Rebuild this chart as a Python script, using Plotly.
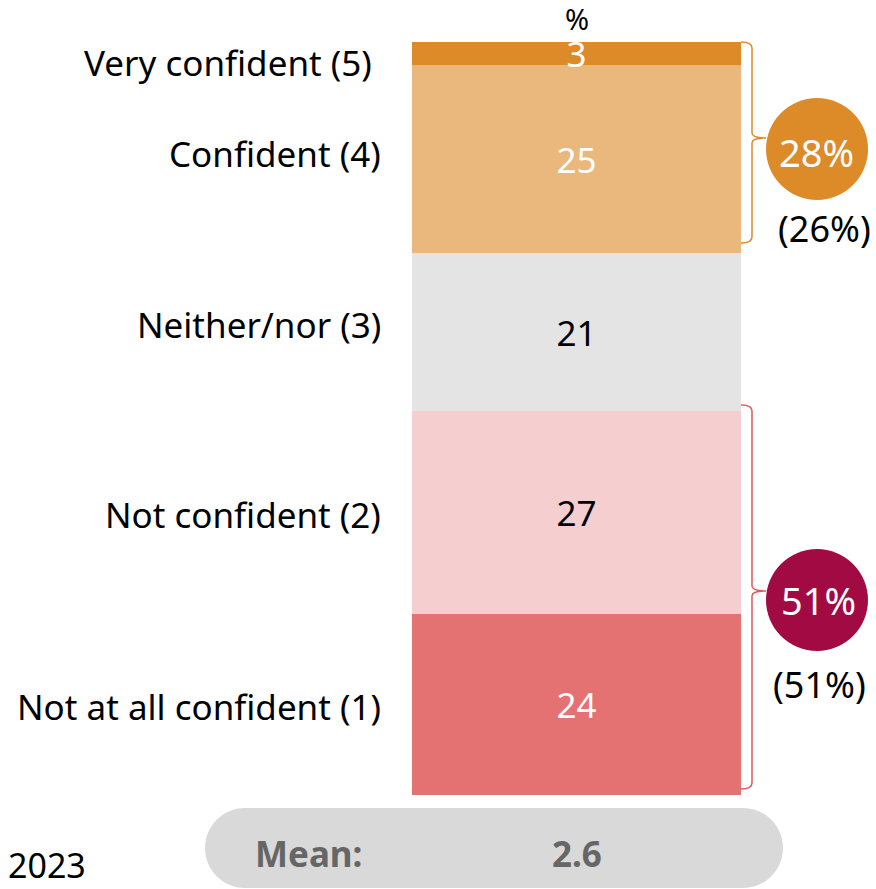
import plotly.graph_objects as go

# Survey responses, stacked bottom to top
categories = ["Not at all confident (1)", "Not confident (2)", "Neither/nor (3)",
              "Confident (4)", "Very confident (5)"]
values = [24, 27, 21, 25, 3]
colors = ["#E47272", "#F5CECF", "#E4E4E4", "#EAB77C", "#DD8A29"]
text_colors = ["white", "black", "black", "white", "white"]

net_confident = "28%"
net_confident_prev = "(26%)"
net_not_confident = "51%"
net_not_confident_prev = "(51%)"
mean_value = "2.6"
year_label = "2023"

W, H = 876, 889
BAR_TOP_PX, BAR_BOT_PX = 42, 795
px_per_unit = (BAR_BOT_PX - BAR_TOP_PX) / 100.0
y_lo = -(H - BAR_BOT_PX) / px_per_unit
y_hi = 100 + BAR_TOP_PX / px_per_unit

FONT = "Noto Sans, Open Sans, sans-serif"
BAR_X = 576.5
BAR_W = 329

fig = go.Figure()

for cat, v, c, tc in zip(categories, values, colors, text_colors):
    fig.add_trace(go.Bar(
        x=[BAR_X], y=[v], width=[BAR_W], name=cat,
        marker=dict(color=c, line=dict(width=0)),
        text=[str(v)], textposition="inside", insidetextanchor="middle",
        textangle=0, textfont=dict(family=FONT, size=35, color=tc),
        cliponaxis=False, constraintext="none", hoverinfo="skip",
    ))

# Category labels on the left, beside each segment
label_yshift = [-2, -2, 7, 5, -9]
label_xshift = [0, 0, 0, 0, -9]
annotations = []
cum = 0
for i, (cat, v) in enumerate(zip(categories, values)):
    mid = cum + v / 2
    cum += v
    annotations.append(dict(
        x=383, y=mid, xref="x", yref="y", text=cat, showarrow=False,
        xanchor="right", yanchor="middle",
        yshift=label_yshift[i], xshift=label_xshift[i],
        font=dict(family=FONT, size=35, color="black"),
    ))

# Pixel-space overlay for decorations
def px(text, x, y, size, color="black", bold=False, xanchor="center"):
    return dict(x=x, y=y, xref="x", yref="y2", text=f"<b>{text}</b>" if bold else text,
                showarrow=False, xanchor=xanchor, yanchor="middle",
                font=dict(family=FONT, size=size, color=color))

annotations += [
    px("%", BAR_X, 18, 29),
    px(net_confident, 816, 152, 38, "white"),
    px(net_confident_prev, 824, 228, 36),
    px(net_not_confident, 818, 600, 38, "white"),
    px(net_not_confident_prev, 819, 684, 36),
    px("Mean:", 308, 853, 35, "#666666", bold=True),
    px(mean_value, 577, 853, 35, "#666666", bold=True),
    px(year_label, 6, 865, 34, xanchor="left"),
]

# Circles for net scores
fig.add_trace(go.Scatter(
    x=[817, 817], y=[149, 600], yaxis="y2", mode="markers",
    marker=dict(size=102, color=["#DD8A29", "#A10A43"], line=dict(width=0)),
    hoverinfo="skip", showlegend=False,
))

def bracket(top, bot, tip, color):
    return dict(
        type="path", xref="x", yref="y2",
        path=(f"M 741 {top} Q 752 {top} 752 {top + 6} "
              f"L 752 {tip - 5} Q 752 {tip} 766 {tip} Q 752 {tip} 752 {tip + 5} "
              f"L 752 {bot - 6} Q 752 {bot} 741 {bot}"),
        line=dict(color=color, width=1.5), fillcolor="rgba(0,0,0,0)",
    )

r = 40
x0, x1, y0, y1 = 205, 783, 808, 888
k = 0.5523 * r
pill = (f"M {x0 + r} {y0} L {x1 - r} {y0} "
        f"C {x1 - r + k} {y0} {x1} {y0 + r - k} {x1} {y0 + r} "
        f"C {x1} {y0 + r + k} {x1 - r + k} {y1} {x1 - r} {y1} "
        f"L {x0 + r} {y1} "
        f"C {x0 + r - k} {y1} {x0} {y0 + r + k} {x0} {y0 + r} "
        f"C {x0} {y0 + r - k} {x0 + r - k} {y0} {x0 + r} {y0} Z")

shapes = [
    bracket(42, 243, 138, "#DD8A29"),
    bracket(405, 789, 591, "#E05A5A"),
    dict(type="path", xref="x", yref="y2", path=pill, fillcolor="#D9D9D9",
         line=dict(width=0), layer="below"),
]

fig.update_layout(
    barmode="stack", width=W, height=H, showlegend=False,
    margin=dict(l=0, r=0, t=0, b=0),
    plot_bgcolor="white", paper_bgcolor="white",
    xaxis=dict(range=[0, W], visible=False, fixedrange=True),
    yaxis=dict(range=[y_lo, y_hi], visible=False, fixedrange=True),
    yaxis2=dict(range=[H, 0], overlaying="y", visible=False, fixedrange=True),
    annotations=annotations, shapes=shapes, bargap=0,
)

fig.write_html("out.html")
